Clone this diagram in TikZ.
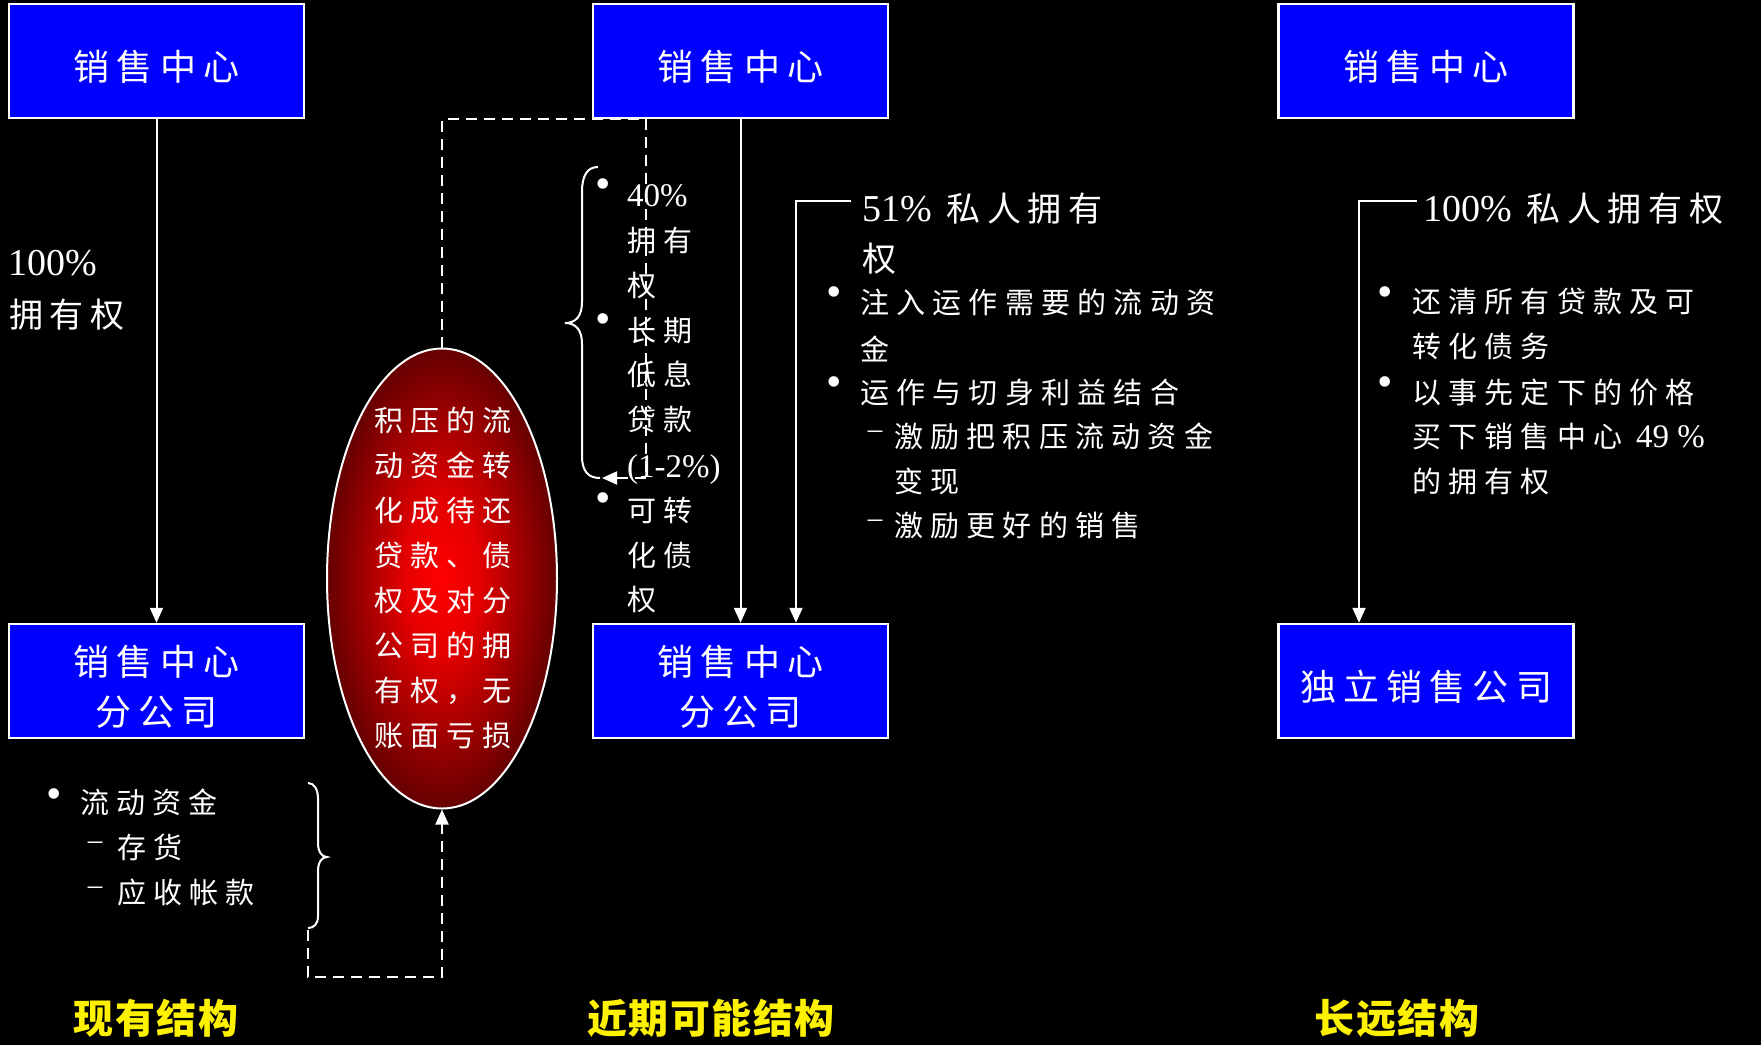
\documentclass[tikz,border=0pt]{standalone}
\usepackage{fontspec}
\usetikzlibrary{arrows.meta,shapes.geometric}
\setmainfont{Liberation Serif}
\newfontfamily\latinf{Liberation Serif}
\newfontfamily\cjkbox{Noto Sans CJK SC}[LetterSpace=20]
\newfontfamily\cjkhead{Noto Sans CJK SC}[LetterSpace=20]
\newfontfamily\cjkbul{Noto Sans CJK SC}[LetterSpace=25]
\newfontfamily\cjktitle{Noto Sans CJK SC}[LetterSpace=4]
\newcommand\latx[2]{{\fontsize{#1}{#1}\latinf #2}}
\newcommand\bxs{\rule{0pt}{42pt}}
\pgfdeclareradialshading{redglow}{\pgfpoint{0bp}{0bp}}{color(0bp)=(red); color(8bp)=(red!90!black); color(25bp)=(red!40!black); color(50bp)=(red!40!black)}
\tikzset{
 box/.style={draw=white, line width=2.5pt, fill=blue, minimum width=295pt, minimum height=114pt, inner sep=0pt, text=white, align=center, font=\fontsize{36}{50}\cjkbox},
 conn/.style={draw=white, line width=2pt, -{Triangle[length=15pt,width=13pt]}},
 dconn/.style={draw=white, line width=2pt, dash pattern=on 11pt off 7pt, -{Triangle[length=15pt,width=13pt]}},
 bline/.style={draw=white, line width=2pt},
 ln/.style={anchor=west, inner sep=0pt, text=white, text height=25pt, text depth=4pt, font=\fontsize{29}{35}\cjkbul},
 hd/.style={anchor=west, inner sep=0pt, text=white, text height=30pt, text depth=5pt, font=\fontsize{34}{40}\cjkhead},
 bul/.style={inner sep=0pt, text=white, font=\fontsize{44}{44}\latinf},
 dsh/.style={inner sep=0pt, text=white, font=\fontsize{29}{29}\latinf},
 ttl/.style={inner sep=0pt, text=yellow, font=\fontsize{40}{40}\cjktitle\bfseries},
}
\begin{document}
\begin{tikzpicture}[x=1pt,y=-1pt]
\fill[black] (0,0) rectangle (1761,1045);
\useasboundingbox (0,0) rectangle (1761,1045);

% boxes
\node[box] (b1) at (156.5,61) {\bxs 销售中心};
\node[box] (b2) at (740.5,61) {\bxs 销售中心};
\node[box] (b3) at (1426,61) {\bxs 销售中心};
\node[box] (s1) at (156.5,681) {\bxs 销售中心\\分公司};
\node[box] (s2) at (740.5,681) {\bxs 销售中心\\分公司};
\node[box] (s3) at (1426,681) {\bxs 独立销售公司};

% ellipse
\node[ellipse, draw=white, line width=2pt, shade, shading=redglow, minimum width=230pt, minimum height=460pt, inner sep=0pt] (ell) at (442,578.5) {};
\node[inner sep=0pt, text=white, align=center, font=\fontsize{29}{45}\cjkbul] (ellT) at (443,578) {积压的流\\动资金转\\化成待还\\贷款、债\\权及对分\\公司的拥\\有权，无\\账面亏损};

% solid connectors
\draw[conn] (b1.south) -- (s1.north);
\draw[conn] (b2.south) -- (s2.north);
\coordinate (h51) at (851,201);
\coordinate (c51) at (796,201);
\draw[conn] (h51) -- (c51) -- (s2.north -| c51);
\coordinate (h100) at (1417,201);
\coordinate (c100) at (1359,201);
\draw[conn] (h100) -- (c100) -- (s3.north -| c100);

% braces
\draw[bline] (598,167) .. controls (587,167) and (582,176) .. (582,192) -- (582,302) .. controls (582,316) and (576,323) .. (565,323) .. controls (576,323) and (582,330) .. (582,344) -- (582,456) .. controls (582,471) and (588,478) .. (600,478);
\draw[bline] (308,783) .. controls (314,783) and (318,789) .. (318,799) -- (318,843) .. controls (318,852) and (322,857) .. (327,857) .. controls (322,857) and (318,862) .. (318,871) -- (318,916) .. controls (318,924) and (314,928) .. (308,928);

% dashed connectors
\coordinate (mbr) at (602,478);
\draw[dconn] (ell.north) -- (442,119) -- (646,119) -- (646,478) -- (mbr);
\coordinate (lbr) at (308,930);
\draw[dconn] (lbr) -- (308,977) -- (442,977) -- (ell.south);

% left labels
\node[hd] (p100) at (8,263) {\latx{38}{100\%}};
\node[hd] (p100b) at (9,315) {拥有权};

% left list
\node[bul] (lb1) at (54,799) {•};
\node[ln] (l1) at (80,803) {流动资金};
\node[dsh] (ld1) at (95,846) {–};
\node[ln] (l2) at (117,848) {存货};
\node[dsh] (ld2) at (95,891) {–};
\node[ln] (l3) at (117,893) {应收帐款};

% middle bullets
\node[bul] (mb1) at (603,189) {•};
\node[bul] (mb2) at (603,324) {•};
\node[bul] (mb3) at (603,503) {•};
\node[ln] (m1) at (627,196) {\latx{33}{40\%}};
\node[ln] (m2) at (627,241) {拥有};
\node[ln] (m3) at (627,286) {权};
\node[ln] (m4) at (627,331) {长期};
\node[ln] (m5) at (627,375) {低息};
\node[ln] (m6) at (627,420) {贷款};
\node[ln] (m7) at (627,467) {\latx{33}{(1-2\%)}};
\node[ln] (m8) at (627,511) {可转};
\node[ln] (m9) at (627,556) {化债};
\node[ln] (m10) at (627,600) {权};

% 51% block
\node[hd] (r1) at (862,209) {\latx{38}{51\%} 私人拥有};
\node[hd] (r2) at (862,259) {权};
\node[bul] (rb1) at (834,297) {•};
\node[bul] (rb2) at (834,387) {•};
\node[ln] (r3) at (860,303) {注入运作需要的流动资};
\node[ln] (r4) at (860,350) {金};
\node[ln] (r5) at (860,393) {运作与切身利益结合};
\node[dsh] (rd1) at (875,435) {–};
\node[ln] (r6) at (894,437) {激励把积压流动资金};
\node[ln] (r7) at (894,482) {变现};
\node[dsh] (rd2) at (875,524) {–};
\node[ln] (r8) at (894,526) {激励更好的销售};

% 100% block
\node[hd] (q1) at (1423,209) {\latx{38}{100\%} 私人拥有权};
\node[bul] (qb1) at (1385,297) {•};
\node[bul] (qb2) at (1385,387) {•};
\node[ln] (q2) at (1412,302) {还清所有贷款及可};
\node[ln] (q3) at (1412,347) {转化债务};
\node[ln] (q4) at (1412,393) {以事先定下的价格};
\node[ln] (q5) at (1412,437) {买下销售中心 \latx{33}{49 \%}};
\node[ln] (q6) at (1412,482) {的拥有权};

% titles
\node[ttl] (t1) at (156,1018) {现有结构};
\node[ttl] (t2) at (711,1018) {近期可能结构};
\node[ttl] (t3) at (1397,1018) {长远结构};
\end{tikzpicture}
\end{document}
